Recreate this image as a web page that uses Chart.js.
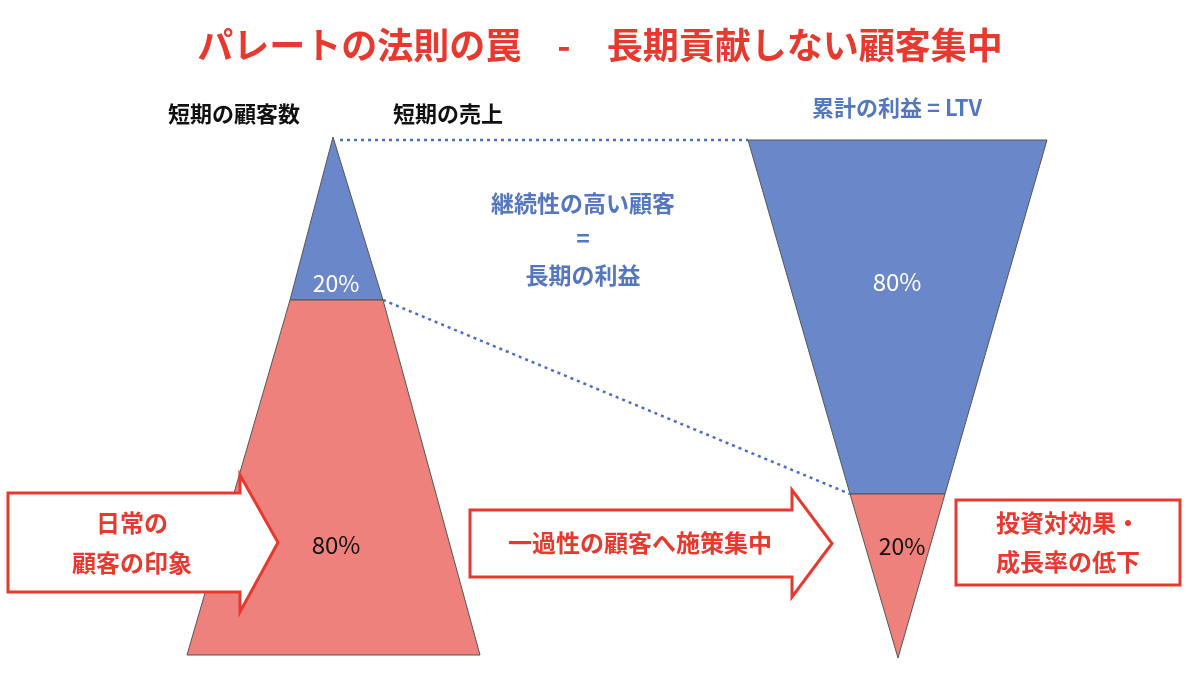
<!DOCTYPE html>
<html>
<head>
<meta charset="utf-8">
<script src="https://cdn.jsdelivr.net/npm/chart.js@4"></script>
<style>
  html, body { margin: 0; padding: 0; background: #fff; }
  canvas { display: block; }
</style>
</head>
<body>
<canvas id="diagrama" width="1200" height="679"></canvas>
<script>
// ===================== DATOS =====================
const titulo = "パレートの法則の罠　-　長期貢献しない顧客集中";
const etiquetasCorto = ["短期の顧客数", "短期の売上"];
const etiquetaLTV = "累計の利益 = LTV";
const textoCentro = ["継続性の高い顧客", "=", "長期の利益"];
const sharesCorto = [20, 80];   // arriba (azul), abajo (rojo)
const sharesLTV = [80, 20];     // arriba (azul), abajo (rojo)
const flechaIzq = ["日常の", "顧客の印象"];
const flechaCentro = ["一過性の顧客へ施策集中"];
const cajaDer = ["投資対効果・", "成長率の低下"];

const AZUL = "#6a87c9";
const ROJO = "#ee817b";
const ROJO_TXT = "#e8392f";
const AZUL_TXT = "#5577c0";
const FONT = '"Noto Sans CJK JP", "Noto Sans", sans-serif';

// geometría (espacio del diagrama, 0-1200 x 0-679)
const piramide = { apex: [333, 137], corteY: 300, corteX: [290, 383], baseY: 655, baseX: [187, 480] };
const embudo = { topY: 140, topX: [748, 1047], corteY: 494, corteX: [850, 945], tip: [898, 658] };

// ===================== PLUGIN DE DIBUJO =====================
function poly(ctx, sx, sy, pts, fill, stroke, lw) {
  ctx.beginPath();
  pts.forEach(([x, y], i) => i ? ctx.lineTo(sx(x), sy(y)) : ctx.moveTo(sx(x), sy(y)));
  ctx.closePath();
  if (fill) { ctx.fillStyle = fill; ctx.fill(); }
  if (stroke) { ctx.strokeStyle = stroke; ctx.lineWidth = lw; ctx.stroke(); }
}

function texto(ctx, sx, sy, str, x, y, color, size, weight) {
  ctx.fillStyle = color;
  ctx.font = `${weight || "bold"} ${size}px ${FONT}`;
  ctx.textAlign = "center";
  ctx.textBaseline = "middle";
  ctx.fillText(str, sx(x), sy(y));
}

function flecha(ctx, sx, sy, x0, x1, xp, y0, y1, hy0, hy1) {
  const ym = (y0 + y1) / 2;
  poly(ctx, sx, sy, [[x0, y0], [x1, y0], [x1, hy0], [xp, ym], [x1, hy1], [x1, y1], [x0, y1]], "#fff", ROJO_TXT, 3);
}

const diagramaPlugin = {
  id: "diagrama",
  beforeDatasetsDraw(chart) {
    const ctx = chart.ctx;
    const sx = v => chart.scales.x.getPixelForValue(v);
    const sy = v => chart.scales.y.getPixelForValue(v);
    ctx.save();
    const p = piramide, e = embudo;
    poly(ctx, sx, sy, [p.apex, [p.corteX[1], p.corteY], [p.corteX[0], p.corteY]], AZUL, "#555", 1);
    poly(ctx, sx, sy, [[p.corteX[0], p.corteY], [p.corteX[1], p.corteY], [p.baseX[1], p.baseY], [p.baseX[0], p.baseY]], ROJO, "#555", 1);
    poly(ctx, sx, sy, [[e.topX[0], e.topY], [e.topX[1], e.topY], [e.corteX[1], e.corteY], [e.corteX[0], e.corteY]], AZUL, "#555", 1);
    poly(ctx, sx, sy, [[e.corteX[0], e.corteY], [e.corteX[1], e.corteY], e.tip], ROJO, "#555", 1);

    flecha(ctx, sx, sy, 8, 240, 278, 493, 592, 475, 612);
    flecha(ctx, sx, sy, 470, 792, 832, 510, 577, 490, 597);
    poly(ctx, sx, sy, [[956, 500], [1180, 500], [1180, 585], [956, 585]], "#fff", ROJO_TXT, 3);
    ctx.restore();
  },
  afterDatasetsDraw(chart) {
    const ctx = chart.ctx;
    const sx = v => chart.scales.x.getPixelForValue(v);
    const sy = v => chart.scales.y.getPixelForValue(v);
    ctx.save();
    texto(ctx, sx, sy, titulo, 600, 45, ROJO_TXT, 36);
    texto(ctx, sx, sy, etiquetasCorto[0], 234, 114, "#111", 22);
    texto(ctx, sx, sy, etiquetasCorto[1], 448, 114, "#111", 22);
    texto(ctx, sx, sy, etiquetaLTV, 897, 108, AZUL_TXT, 22);
    [203, 238, 275].forEach((y, i) => texto(ctx, sx, sy, textoCentro[i], 583, y, AZUL_TXT, 23));
    texto(ctx, sx, sy, sharesCorto[0] + "%", 336, 283, "#fff", 23, "normal");
    texto(ctx, sx, sy, sharesCorto[1] + "%", 336, 545, "#111", 24, "normal");
    texto(ctx, sx, sy, sharesLTV[0] + "%", 897, 282, "#fff", 24, "normal");
    texto(ctx, sx, sy, sharesLTV[1] + "%", 902, 546, "#111", 23, "normal");
    [523, 563].forEach((y, i) => texto(ctx, sx, sy, flechaIzq[i], 132, y, ROJO_TXT, 24));
    texto(ctx, sx, sy, flechaCentro[0], 640, 543, ROJO_TXT, 24);
    [523, 562].forEach((y, i) => texto(ctx, sx, sy, cajaDer[i], 1068, y, ROJO_TXT, 24));
    ctx.restore();
  },
};

// ===================== CHART =====================
const lineaPunteada = pts => ({
  type: "line",
  data: pts.map(([x, y]) => ({ x, y })),
  borderColor: "#4a6fc0",
  borderWidth: 2.5,
  borderDash: [3, 4],
  pointRadius: 0,
  fill: false,
  showLine: true,
});

new Chart(document.getElementById("diagrama").getContext("2d"), {
  type: "scatter",
  data: {
    datasets: [
      lineaPunteada([[340, piramide.apex[1] + 3], [embudo.topX[0], embudo.topY]]),
      lineaPunteada([[piramide.corteX[1], piramide.corteY], [embudo.corteX[0], embudo.corteY]]),
    ],
  },
  options: {
    responsive: false,
    animation: false,
    layout: { padding: 0 },
    scales: {
      x: { type: "linear", min: 0, max: 1200, display: false },
      y: { type: "linear", min: 0, max: 679, reverse: true, display: false },
    },
    plugins: { legend: { display: false }, tooltip: { enabled: false } },
  },
  plugins: [diagramaPlugin],
});
</script>
</body>
</html>
